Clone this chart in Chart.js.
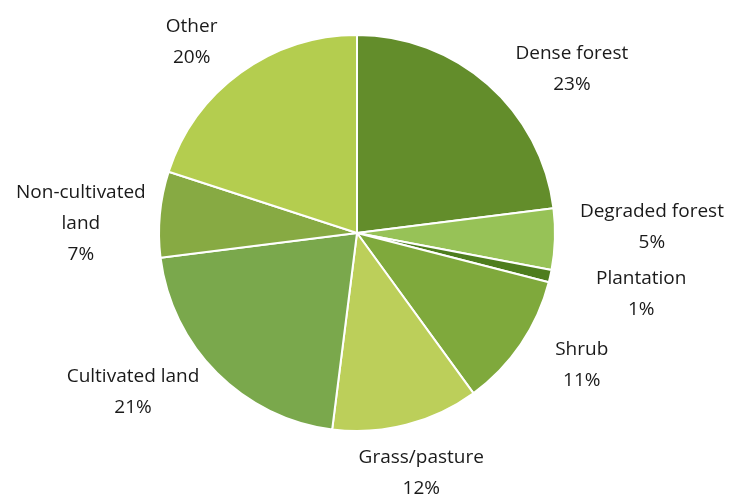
<!DOCTYPE html>
<html>
<head>
<meta charset="utf-8">
<script src="https://cdn.jsdelivr.net/npm/chart.js@4.4.1/dist/chart.umd.min.js"></script>
<style>
  html, body { margin: 0; padding: 0; background: #fff; }
  #wrap { width: 730px; height: 495px; }
</style>
</head>
<body>
<div id="wrap"><canvas id="pieChart" width="730" height="495"></canvas></div>
<script>
// Land cover shares (%)
var categories = ["Dense forest", "Degraded forest", "Plantation", "Shrub",
                  "Grass/pasture", "Cultivated land", "Non-cultivated land", "Other"];
var shares = [23, 5, 1, 11, 12, 21, 7, 20];

var sliceColors = ["#638d2b", "#97c257", "#4e7d1e", "#7fa93c",
                   "#bccf5a", "#7aa84c", "#87aa43", "#b4cd4f"];

// how each label is written (line breaks) and nudged off the slice's outer edge
var labelLines = [["Dense forest"], ["Degraded forest"], ["Plantation"], ["Shrub"],
                  ["Grass/pasture"], ["Cultivated land"], ["Non-cultivated", "land"], ["Other"]];
var labelNudge = [[84, -15], [97, -12], [91, 18], [61, 21],
                  [15, 48], [-84, 19], [-79, 9], [-49, -31]];

// draws "name / pct%" outside each slice
var outsideLabels = {
    id: 'outsideLabels',
    afterDatasetsDraw: function(chart) {
        var ctx = chart.ctx;
        var arcs = chart.getDatasetMeta(0).data;
        ctx.save();
        ctx.font = '19px "Open Sans", sans-serif';
        ctx.fillStyle = '#1a1a1a';
        ctx.textAlign = 'center';
        ctx.textBaseline = 'middle';
        var lineH = 31;
        arcs.forEach(function(arc, i) {
            var mid = (arc.startAngle + arc.endAngle) / 2;
            var x = arc.x + Math.cos(mid) * arc.outerRadius + labelNudge[i][0];
            var y = arc.y + Math.sin(mid) * arc.outerRadius + labelNudge[i][1];
            var lines = labelLines[i].concat([shares[i] + '%']);
            var top = y - (lines.length - 1) * lineH / 2;
            lines.forEach(function(t, k) {
                ctx.fillText(t, x, top + k * lineH);
            });
        });
        ctx.restore();
    }
};

var pieCtx = document.getElementById("pieChart").getContext('2d');
var pieChart = new Chart(pieCtx, {
    type: 'pie',
    data: {
        labels: categories,
        datasets: [{
            data: shares,
            backgroundColor: sliceColors,
            borderColor: '#ffffff',
            borderWidth: 2
        }]
    },
    options: {
        responsive: false,
        animation: false,
        layout: { padding: { left: 158, right: 174, top: 34, bottom: 63 } },
        plugins: {
            legend: { display: false },
            tooltip: { enabled: false }
        }
    },
    plugins: [outsideLabels]
});
</script>
</body>
</html>
